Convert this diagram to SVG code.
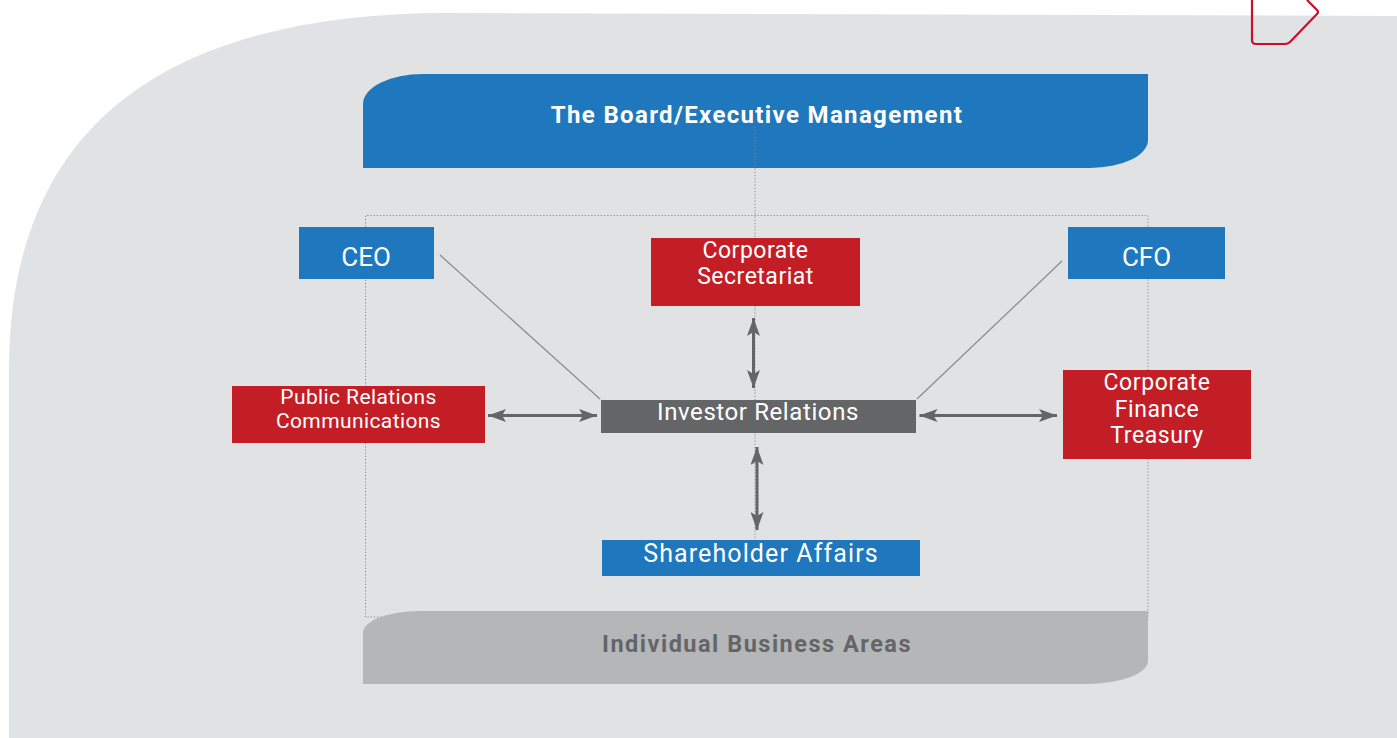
<svg xmlns="http://www.w3.org/2000/svg" width="1397" height="738" viewBox="0 0 1397 738">
<style>
.lbl{font-family:Roboto,"Liberation Sans",sans-serif;fill:#ffffff;text-anchor:middle}
.bold{font-weight:bold}
.blue{fill:#1f78be}
.red{fill:#c31e26}
.dark{fill:#646567}
.dot{fill:none;stroke:#86878a;stroke-width:1;stroke-dasharray:1.2 2}
.arr{stroke:#646567;stroke-width:3;fill:none;marker-start:url(#ah);marker-end:url(#ah)}
.diag{stroke:#8c8c8e;stroke-width:1.3;fill:none}
</style>
<defs>
<marker id="ah" markerUnits="userSpaceOnUse" markerWidth="18" markerHeight="13" refX="18" refY="6.5" orient="auto-start-reverse">
<path d="M0,0 L18,6.5 L0,13 L4,6.5 Z" fill="#646567"/>
</marker>
</defs>
<rect width="1397" height="738" fill="#ffffff"/>
<path d="M9,738 V370 C9,100 200,13 450,13 L1397,16 V738 Z" fill="#e1e2e4"/>
<path d="M1252,0 V40 Q1252,44 1256,44 H1285 Q1288,44 1290,42 L1317,14 Q1319,12 1317,10 L1307,0" fill="none" stroke="#c8102e" stroke-width="2.2" stroke-linejoin="round"/>
<g id="board">
<path d="M363,168 V104 A60,30 0 0 1 423,74 H1148 V140 A58,28 0 0 1 1090,168 Z" class="blue"/>
<text x="757" y="123" class="lbl bold" font-size="24" letter-spacing="1.35">The Board/Executive Management</text>
</g>
<g id="connectors">
<path d="M365.5,617 V215.5 H1148 V617 H365.5" class="dot"/>
<line x1="755" y1="127" x2="755" y2="540" class="dot"/>
<line x1="440" y1="255" x2="600" y2="399" class="diag"/>
<line x1="1062" y1="261" x2="917" y2="399" class="diag"/>
<line x1="488" y1="415.5" x2="597" y2="415.5" class="arr"/>
<line x1="919.5" y1="415.5" x2="1057" y2="415.5" class="arr"/>
<line x1="753.5" y1="318" x2="753.5" y2="388" class="arr"/>
<line x1="757" y1="447" x2="757" y2="530" class="arr"/>
</g>
<g id="ceo">
<rect x="299" y="227" width="135" height="52" class="blue"/>
<text x="366" y="266" class="lbl" font-size="26">CEO</text>
</g>
<g id="cfo">
<rect x="1068" y="227" width="157" height="52" class="blue"/>
<text x="1146.5" y="266" class="lbl" font-size="26">CFO</text>
</g>
<g id="corporate-secretariat">
<rect x="651" y="238" width="209" height="68" class="red"/>
<text x="755.5" y="258" class="lbl" font-size="23" letter-spacing="0.5">Corporate</text>
<text x="755.5" y="284" class="lbl" font-size="23" letter-spacing="0.5">Secretariat</text>
</g>
<g id="public-relations">
<rect x="232" y="386" width="253" height="57" class="red"/>
<text x="358.5" y="404" class="lbl" font-size="21" letter-spacing="0.4">Public Relations</text>
<text x="358.5" y="428" class="lbl" font-size="21" letter-spacing="0.4">Communications</text>
</g>
<g id="investor-relations">
<rect x="601" y="400" width="315" height="33" class="dark"/>
<text x="758" y="420" class="lbl" font-size="24" letter-spacing="0.6">Investor Relations</text>
</g>
<g id="corporate-finance">
<rect x="1063" y="370" width="188" height="89" class="red"/>
<text x="1157" y="390" class="lbl" font-size="23" letter-spacing="0.6">Corporate</text>
<text x="1157" y="417" class="lbl" font-size="23" letter-spacing="0.6">Finance</text>
<text x="1157" y="443" class="lbl" font-size="23" letter-spacing="0.6">Treasury</text>
</g>
<g id="shareholder-affairs">
<rect x="602" y="540" width="318" height="36" class="blue"/>
<text x="761" y="562" class="lbl" font-size="25" letter-spacing="1.1">Shareholder Affairs</text>
</g>
<g id="business-areas">
<path d="M363,684 V633 A56,22 0 0 1 419,611 H1148 V661 A62,23 0 0 1 1086,684 Z" fill="#b5b6b8"/>
<text x="757" y="652" class="lbl bold" font-size="23.5" letter-spacing="1.5" style="fill:#646567">Individual Business Areas</text>
</g>
</svg>
